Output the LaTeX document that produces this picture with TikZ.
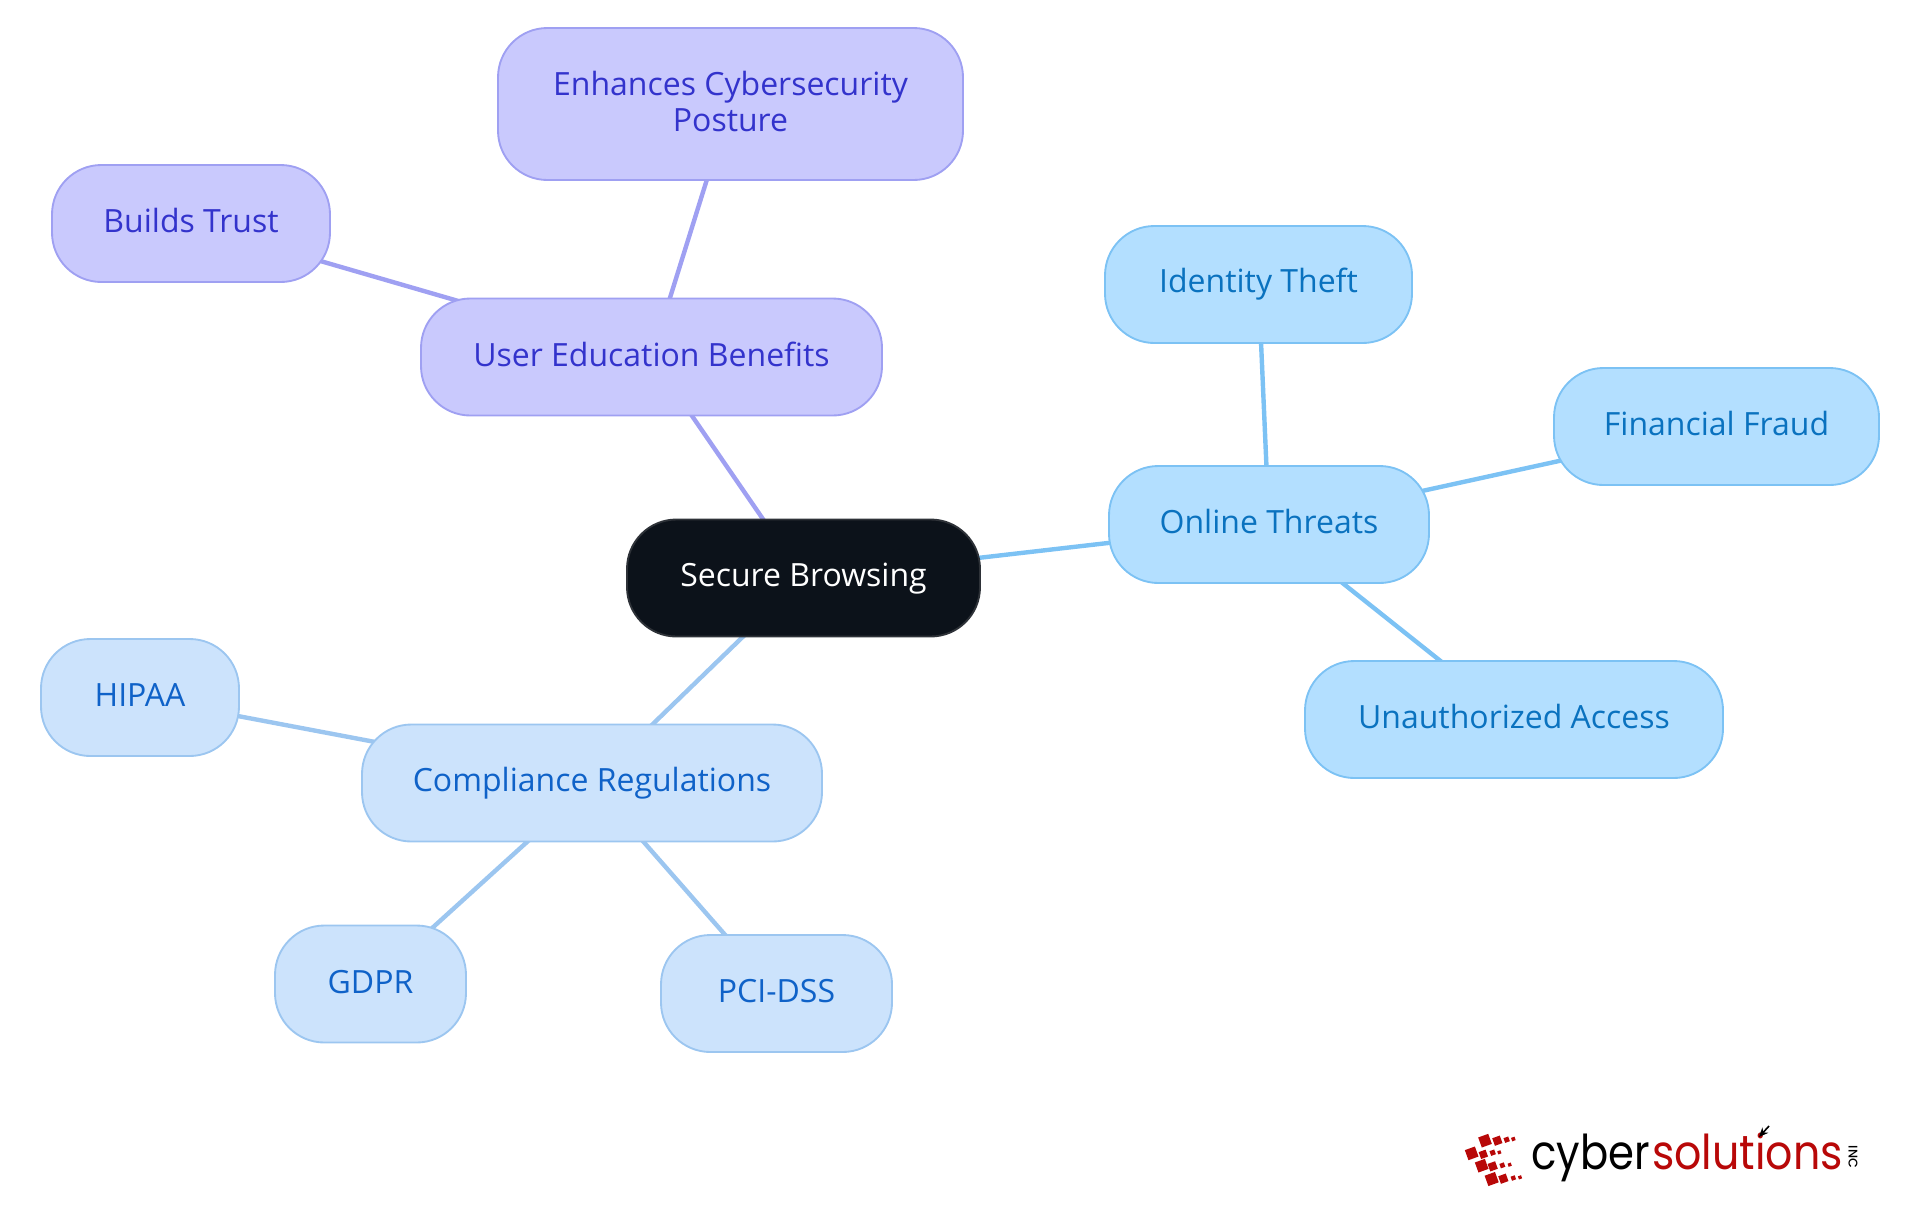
\documentclass[tikz,border=0pt]{standalone}
\usepackage{fontspec}
\setmainfont{Open Sans}
\newfontfamily\logofont[BoldFont=* Medium]{Poppins}
\usetikzlibrary{backgrounds,arrows.meta}
\definecolor{purF}{HTML}{C9C9FD}\definecolor{purD}{HTML}{9FA0F2}\definecolor{purT}{HTML}{3333CC}
\definecolor{bluF}{HTML}{B3DFFF}\definecolor{bluD}{HTML}{7CC2F4}\definecolor{bluT}{HTML}{0A72BF}
\definecolor{ligF}{HTML}{CCE3FC}\definecolor{ligD}{HTML}{9CC6F0}\definecolor{ligT}{HTML}{0F62C8}
\definecolor{rootF}{HTML}{0C121A}\definecolor{rootD}{HTML}{2E3238}
\definecolor{logoR}{HTML}{B80808}
\tikzset{
  x=0.75pt,y=-0.75pt,
  mapnode/.style={rounded corners=37pt,line width=1.4pt,inner sep=0pt,align=center,font=\fontsize{24pt}{27pt}\selectfont},
  rootnode/.style={mapnode,fill=rootF,draw=rootD,text=white},
  purnode/.style={mapnode,fill=purF,draw=purD,text=purT},
  blunode/.style={mapnode,fill=bluF,draw=bluD,text=bluT},
  lignode/.style={mapnode,fill=ligF,draw=ligD,text=ligT},
  puredge/.style={draw=purD,line width=3.3pt},
  bluedge/.style={draw=bluD,line width=3.3pt},
  ligedge/.style={draw=ligD,line width=3.3pt},
  logosq/.style={fill=logoR,rotate=20,inner sep=0pt,draw=none},
}
\newcommand{\mapstrut}{\rule[-4.4pt]{0pt}{22.6pt}}
\newcommand{\mapbox}[7]{\node[#1,minimum width=#4*0.75pt-1.5pt,minimum height=#5*0.75pt-1.5pt] (#2) at (#6,#7) {\mapstrut #3};}
\newcommand{\lsq}[3]{\node[logosq,minimum size=#3*0.25pt] at ({1440+#1/3},{1100+#2/3}) {};}
\begin{document}
\begin{tikzpicture}
\useasboundingbox (0,0) rectangle (1920,1215);
\mapbox{rootnode}{root}{Secure Browsing}{355}{119}{803.5}{578}
\mapbox{purnode}{user}{User Education Benefits}{463}{119}{651.5}{357}
\mapbox{purnode}{enh}{Enhances Cybersecurity\\\mapstrut Posture}{467}{154}{730.5}{104}
\mapbox{purnode}{trust}{Builds Trust}{280}{119}{191}{223.5}
\mapbox{blunode}{threats}{Online Threats}{322}{119}{1269}{524.5}
\mapbox{blunode}{ident}{Identity Theft}{309}{119}{1258.5}{284.5}
\mapbox{blunode}{fraud}{Financial Fraud}{327}{119}{1716.5}{426.5}
\mapbox{blunode}{unauth}{Unauthorized Access}{420}{119}{1514}{719.5}
\mapbox{lignode}{comp}{Compliance Regulations}{462}{119}{592}{783}
\mapbox{lignode}{hipaa}{HIPAA}{200}{119}{140}{697.5}
\mapbox{lignode}{gdpr}{GDPR}{193}{119}{370.5}{984}
\mapbox{lignode}{pci}{PCI-DSS}{233}{119}{776.5}{993.5}
\begin{pgfonlayer}{background}
\draw[puredge] (root.center) -- (user.center);
\draw[puredge] (user.center) -- (enh.center);
\draw[puredge] (user.center) -- (trust.center);
\draw[bluedge] (root.center) -- (threats.center);
\draw[bluedge] (threats.center) -- (ident.center);
\draw[bluedge] (threats.center) -- (fraud.center);
\draw[bluedge] (threats.center) -- (unauth.center);
\draw[ligedge] (root.center) -- (comp.center);
\draw[ligedge] (comp.center) -- (hipaa.center);
\draw[ligedge] (comp.center) -- (gdpr.center);
\draw[ligedge] (comp.center) -- (pci.center);
\end{pgfonlayer}
% logo
\lsq{135}{122}{32}\lsq{172}{122}{24}\lsq{200}{119}{15}\lsq{220}{117}{11}
\lsq{95}{160}{32}\lsq{130}{163}{22}\lsq{158}{158}{15}\lsq{178}{157}{10}
\lsq{125}{197}{32}\lsq{158}{199}{24}\lsq{187}{196}{14}\lsq{209}{194}{10}
\lsq{155}{237}{33}\lsq{190}{236}{24}\lsq{220}{234}{13}\lsq{240}{232}{10}
\node[anchor=base west,inner sep=0pt,xscale=0.87,font=\logofont\fontsize{36pt}{36pt}\selectfont] (logoa) at (1531,1169) {cyber};
\node[anchor=base west,inner sep=0pt,xscale=0.89,text=logoR,font=\logofont\fontsize{36pt}{36pt}\selectfont] (logob) at (1652,1169) {solutions};
\node[rotate=-90,inner sep=0pt,font=\logofont\bfseries\fontsize{9.5pt}{9.5pt}\selectfont] (logoc) at (1853,1157) {INC};
\coordinate (arrA) at (1769,1126);
\coordinate (arrB) at (1759,1137);
\draw[line width=1.2pt,-{Stealth[length=7pt,width=6pt]}] (arrA) -- (arrB);
\end{tikzpicture}
\end{document}
